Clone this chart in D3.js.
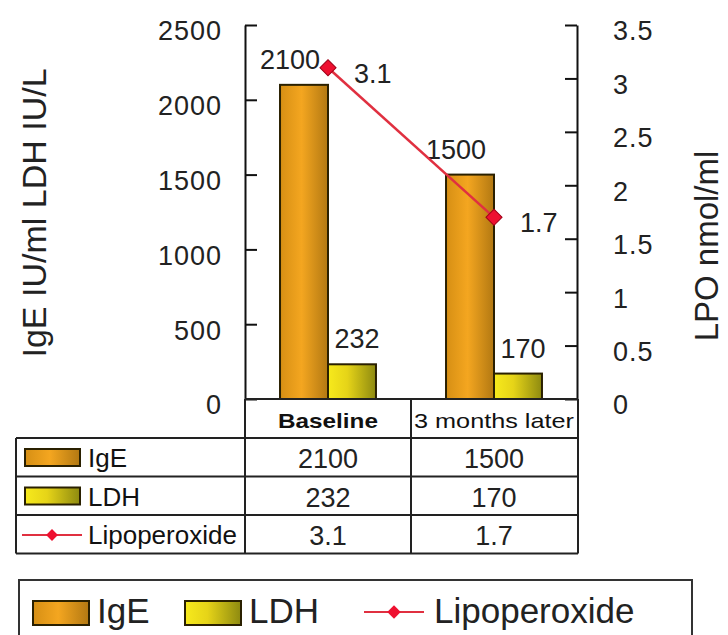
<!DOCTYPE html>
<html>
<head>
<meta charset="utf-8">
<script src="https://cdn.jsdelivr.net/npm/d3@7"></script>
<style>
  body { margin: 0; background: #fff; }
  svg { display: block; font-family: "Liberation Sans", Arial, sans-serif; }
</style>
</head>
<body>
<div id="chart"></div>
<script>
// chart data
const categories = ["Baseline", "3 months later"];
const barSeries = ["IgE", "LDH"];
const igeValues = [2100, 1500];
const ldhValues = [232, 170];
const lpoValues = [3.1, 1.7];
const leftTicks = [0, 500, 1000, 1500, 2000, 2500];
const rightTicks = [0, 0.5, 1, 1.5, 2, 2.5, 3, 3.5];

const W = 728, H = 635;
const plot = {left: 245, right: 577, top: 25, bottom: 399};

const svg = d3.select("#chart").append("svg")
    .attr("width", W)
    .attr("height", H);

// gradients for the bars
const defs = svg.append("defs");
function grad(id, stops) {
    const g = defs.append("linearGradient").attr("id", id)
        .attr("x1", "0%").attr("x2", "100%").attr("y1", "0%").attr("y2", "0%");
    stops.forEach(s => g.append("stop").attr("offset", s[0]).attr("stop-color", s[1]));
}
grad("gIgE", [["0%", "#d68f14"], ["45%", "#f4a620"], ["100%", "#b27812"]]);
grad("gLDH", [["0%", "#f7ea1c"], ["40%", "#e6d418"], ["100%", "#8e8a10"]]);
const fills = {IgE: "url(#gIgE)", LDH: "url(#gLDH)"};
const lineColor = "#e03040";
const markerColor = "#ee1030";

const x = d3.scaleBand().domain(categories).range([plot.left, plot.right]);
const xs = d3.scaleBand().domain(barSeries).range([0, x.bandwidth()]).paddingOuter(0.73);
const yL = d3.scaleLinear().domain([0, 2500]).range([plot.bottom, plot.top]);
const yR = d3.scaleLinear().domain([0, 3.5]).range([plot.bottom, plot.top]);

// axes
const axL = svg.append("g").attr("transform", `translate(${plot.left},0)`)
    .call(d3.axisLeft(yL).tickValues(leftTicks).tickFormat(d3.format("d"))
        .tickSizeInner(-12).tickSizeOuter(0).tickPadding(23));
const axR = svg.append("g").attr("transform", `translate(${plot.right},0)`)
    .call(d3.axisRight(yR).tickValues(rightTicks).tickFormat(d => String(d))
        .tickSizeInner(-12).tickSizeOuter(0).tickPadding(36));
[axL, axR].forEach(a => {
    a.selectAll("path, line").attr("stroke", "#111").attr("stroke-width", 2);
    a.selectAll("text").attr("font-size", 27).attr("fill", "#222")
        .attr("dy", "0.55em").attr("letter-spacing", 1)
        .attr("font-family", "Liberation Sans, Arial, sans-serif");
});

// axis titles
svg.append("text")
    .attr("transform", "translate(46,213) rotate(-90)")
    .attr("text-anchor", "middle").attr("font-size", 34).attr("fill", "#222")
    .text("IgE IU/ml LDH IU/L");
svg.append("text")
    .attr("transform", "translate(718,246) rotate(-90)")
    .attr("text-anchor", "middle").attr("font-size", 33).attr("fill", "#222")
    .text("LPO nmol/ml");

// bars
const barData = [];
categories.forEach((c, i) => {
    barData.push({cat: c, s: "IgE", v: igeValues[i]});
    barData.push({cat: c, s: "LDH", v: ldhValues[i]});
});
svg.append("g").selectAll("rect").data(barData).enter().append("rect")
    .attr("x", d => x(d.cat) + xs(d.s))
    .attr("y", d => yL(d.v))
    .attr("width", xs.bandwidth())
    .attr("height", d => yL(0) - yL(d.v))
    .attr("fill", d => fills[d.s])
    .attr("stroke", "#2a2000").attr("stroke-width", 2);

svg.append("g").selectAll("text").data(barData).enter().append("text")
    .attr("x", d => x(d.cat) + xs(d.s) + xs.bandwidth() / 2 + (d.s === "IgE" ? -14 : 5))
    .attr("y", d => yL(d.v) - 16)
    .attr("text-anchor", "middle").attr("font-size", 27).attr("fill", "#222")
    .text(d => d.v);

// lipoperoxide line
const lpoData = categories.map((c, i) => ({cat: c, v: lpoValues[i]}));
const lineGen = d3.line().x(d => x(d.cat) + x.bandwidth() / 2).y(d => yR(d.v));
svg.append("path").datum(lpoData).attr("d", lineGen)
    .attr("fill", "none").attr("stroke", lineColor).attr("stroke-width", 2.5);
const diamond = d3.symbol().type(d3.symbolSquare).size(130);
svg.append("g").selectAll("path").data(lpoData).enter().append("path")
    .attr("d", diamond)
    .attr("transform", d => `translate(${x(d.cat) + x.bandwidth() / 2},${yR(d.v)}) rotate(45)`)
    .attr("fill", markerColor).attr("stroke", "#a00018").attr("stroke-width", 1);
svg.append("g").selectAll("text").data(lpoData).enter().append("text")
    .attr("x", d => x(d.cat) + x.bandwidth() / 2 + 26)
    .attr("y", d => yR(d.v) + 15)
    .attr("font-size", 27).attr("fill", "#222")
    .text(d => d.v);

// data table
const tbl = svg.append("g");
const rowTop = 438, rowH = 38.5, tblLeft = 16;
const rows = [
    {name: "IgE", vals: igeValues, key: "bar"},
    {name: "LDH", vals: ldhValues, key: "bar"},
    {name: "Lipoperoxide", vals: lpoValues, key: "line"}
];
const tblStroke = "#222";
// header
categories.forEach(c => {
    tbl.append("text").attr("x", x(c) + x.bandwidth() / 2).attr("y", 428)
        .attr("text-anchor", "middle").attr("font-size", 21).attr("fill", "#111")
        .attr("font-weight", c === "Baseline" ? "bold" : "normal")
        .attr("textLength", c === "Baseline" ? 100 : 160).attr("lengthAdjust", "spacingAndGlyphs")
        .text(c);
});
rows.forEach((r, i) => {
    const y0 = rowTop + i * rowH;
    if (r.key === "bar") {
        tbl.append("rect").attr("x", 25).attr("y", y0 + 11).attr("width", 55).attr("height", 17)
            .attr("fill", fills[r.name]).attr("stroke", "#2a2000").attr("stroke-width", 2);
    } else {
        tbl.append("line").attr("x1", 22).attr("x2", 82).attr("y1", y0 + 20).attr("y2", y0 + 20)
            .attr("stroke", lineColor).attr("stroke-width", 2);
        tbl.append("path").attr("d", d3.symbol().type(d3.symbolSquare).size(70))
            .attr("transform", `translate(52,${y0 + 20}) rotate(45)`).attr("fill", markerColor);
    }
    tbl.append("text").attr("x", 88).attr("y", y0 + 29).attr("font-size", 26).attr("fill", "#111")
        .text(r.name);
    categories.forEach((c, j) => {
        tbl.append("text").attr("x", x(c) + x.bandwidth() / 2).attr("y", y0 + 30)
            .attr("text-anchor", "middle").attr("font-size", 27).attr("fill", "#222")
            .text(r.vals[j]);
    });
});
const tblBottom = rowTop + rows.length * rowH;
const hLines = [rowTop, rowTop + rowH, rowTop + 2 * rowH, tblBottom];
hLines.forEach(yy => tbl.append("line").attr("x1", tblLeft).attr("x2", plot.right + 1)
    .attr("y1", yy).attr("y2", yy).attr("stroke", tblStroke).attr("stroke-width", 2));
tbl.append("line").attr("x1", tblLeft).attr("x2", tblLeft).attr("y1", rowTop).attr("y2", tblBottom)
    .attr("stroke", tblStroke).attr("stroke-width", 2);
[plot.left, x(categories[1]), plot.right + 1].forEach(xx =>
    tbl.append("line").attr("x1", xx).attr("x2", xx).attr("y1", plot.bottom).attr("y2", tblBottom)
        .attr("stroke", tblStroke).attr("stroke-width", 2));
tbl.append("line").attr("x1", plot.left).attr("x2", plot.right + 1)
    .attr("y1", plot.bottom).attr("y2", plot.bottom).attr("stroke", tblStroke).attr("stroke-width", 2);

// bottom legend
const lg = svg.append("g");
lg.append("rect").attr("x", 19).attr("y", 580).attr("width", 673).attr("height", 70)
    .attr("fill", "#fff").attr("stroke", "#333").attr("stroke-width", 2);
const legendItems = [
    {name: "IgE", kind: "bar", x: 33},
    {name: "LDH", kind: "bar", x: 185},
    {name: "Lipoperoxide", kind: "line", x: 364}
];
legendItems.forEach(it => {
    if (it.kind === "bar") {
        lg.append("rect").attr("x", it.x).attr("y", 601).attr("width", 56).attr("height", 24)
            .attr("fill", fills[it.name]).attr("stroke", "#2a2000").attr("stroke-width", 2);
        lg.append("text").attr("x", it.x + 64).attr("y", 623).attr("font-size", 35).attr("fill", "#222")
            .text(it.name);
    } else {
        lg.append("line").attr("x1", it.x).attr("x2", it.x + 60).attr("y1", 612).attr("y2", 612)
            .attr("stroke", lineColor).attr("stroke-width", 2);
        lg.append("path").attr("d", d3.symbol().type(d3.symbolSquare).size(90))
            .attr("transform", `translate(${it.x + 30},612) rotate(45)`).attr("fill", markerColor);
        lg.append("text").attr("x", it.x + 70).attr("y", 623).attr("font-size", 35).attr("fill", "#222")
            .text(it.name);
    }
});
</script>
</body>
</html>
